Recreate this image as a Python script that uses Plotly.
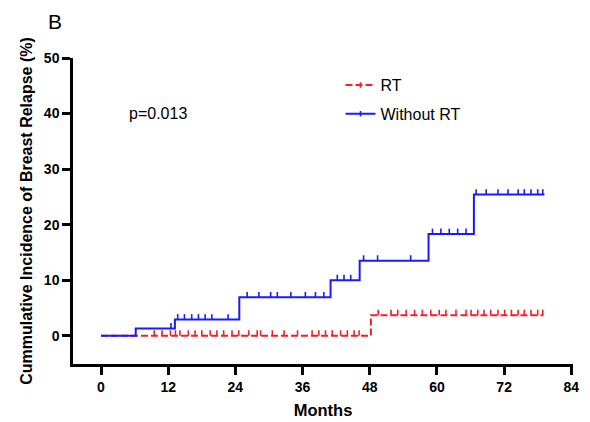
import numpy as np
import plotly.graph_objects as go

# ---- data ----
rt_times = [0, 48.2]
rt_values = [0, 3.7]
rt_end = 79.0
rt_censor = [9.5, 10.9, 12.4, 13.3, 14.1, 15.6, 16.8, 18.0, 19.5, 20.7, 21.9, 23.4, 24.6,
             26.4, 27.9, 28.5, 30.6, 32.7, 35.1, 37.7, 38.9, 40.1, 41.3, 42.8, 44.0, 45.2, 46.1,
             49.5, 51.8, 53.0, 54.5, 56.0, 57.4, 58.9, 60.4, 61.6, 63.4, 65.2, 66.1, 67.3,
             68.4, 69.6, 70.9, 72.1, 73.3, 74.5, 75.6, 76.8, 78.0, 78.9]

nort_times = [0, 6.2, 13.2, 24.7, 41.0, 46.2, 58.5, 66.6]
nort_values = [0, 1.3, 2.9, 6.9, 10.0, 13.5, 18.3, 25.4]
nort_end = 79.2
nort_censor = [12.5, 13.7, 14.9, 16.2, 17.4, 18.6, 19.8, 22.7,
               26.1, 28.2, 30.3, 31.5, 33.9, 36.5, 38.3, 39.8,
               42.2, 43.4, 44.6, 46.9, 49.4, 55.3,
               59.2, 60.7, 62.2, 63.7, 65.2,
               67.0, 68.8, 70.9, 72.7, 74.5, 75.6, 76.8, 78.0, 78.9]

x_ticks = [0, 12, 24, 36, 48, 60, 72, 84]
y_ticks = [0, 10, 20, 30, 40, 50]

RED = "#f0202a"
BLUE = "#1a1aff"
FONT = "Arial, Liberation Sans, sans-serif"
TICK_H = 0.95  # censor tick height in % units


def step_xy(times, values, end):
    return list(times) + [end], list(values) + [values[-1]]


def censor_xy(times, values, pts):
    # isolated points separated by None, raised by half a tick so the tick sits on the line
    idx = np.searchsorted(np.array(times), np.array(pts), side="right") - 1
    xs, ys = [], []
    for p, i in zip(pts, idx):
        xs += [p, None]
        ys += [values[i] + TICK_H / 2, None]
    return xs, ys


fig = go.Figure()

for name, times, values, end, cens, color, dash in [
    ("RT", rt_times, rt_values, rt_end, rt_censor, RED, "7px,3px"),
    ("Without RT", nort_times, nort_values, nort_end, nort_censor, BLUE, "solid"),
]:
    sx, sy = step_xy(times, values, end)
    fig.add_trace(go.Scatter(
        x=sx, y=sy, mode="lines", name=name, legendgroup=name, showlegend=False,
        line=dict(color=color, width=2, dash=dash, shape="hv"), hoverinfo="skip",
    ))
    cx, cy = censor_xy(times, values, cens)
    fig.add_trace(go.Scatter(
        x=cx, y=cy, mode="lines+markers", name=name, legendgroup=name,
        connectgaps=False,
        line=dict(color=color, width=2, dash=dash),
        marker=dict(symbol="line-ns", size=4, color=color,
                    line=dict(color=color, width=1.6)),
        hoverinfo="skip",
    ))

# the page body has an 8px default margin, so the figure is 8px smaller than the window
fig.update_layout(
    width=582, height=414,
    margin=dict(l=65, r=17, t=50, b=58, autoexpand=False),
    paper_bgcolor="white", plot_bgcolor="white",
    font=dict(family=FONT, color="black"),
    showlegend=True,
    legend=dict(x=0.535, y=0.967, xanchor="left", yanchor="top",
                bgcolor="rgba(0,0,0,0)", font=dict(size=16, family=FONT),
                traceorder="grouped", tracegroupgap=5),
    xaxis=dict(range=[-5.0, 84.3], tickvals=x_ticks, ticktext=[str(v) for v in x_ticks],
               automargin=False,
               showgrid=False, zeroline=False, showline=True, linecolor="black", linewidth=2.5,
               ticks="outside", ticklen=8, tickwidth=2.5, tickcolor="black",
               tickfont=dict(size=14, family=FONT, weight="bold"),
               title=dict(text="<b>Months</b>", font=dict(size=16.5, family=FONT), standoff=11)),
    yaxis=dict(range=[-5.1, 50], tickvals=y_ticks, ticktext=[str(v) for v in y_ticks],
               automargin=False,
               showgrid=False, zeroline=False, showline=True, linecolor="black", linewidth=2.5,
               ticks="outside", ticklen=8, tickwidth=2.5, tickcolor="black",
               tickfont=dict(size=14, family=FONT, weight="bold"),
               title=dict(text="<b>Cummulative Incidence of Breast Relapse (%)</b>",
                          font=dict(size=16, family=FONT), standoff=8)),
    annotations=[
        dict(text="B", xref="paper", yref="paper", x=-0.054, y=1.118, xanchor="left",
             yanchor="middle", showarrow=False, font=dict(size=21, family=FONT)),
        dict(text="p=0.013", xref="paper", yref="paper", x=0.107, y=0.817, xanchor="left",
             yanchor="middle", showarrow=False, font=dict(size=16, family=FONT)),
    ],
)

fig.write_html("out.html")
